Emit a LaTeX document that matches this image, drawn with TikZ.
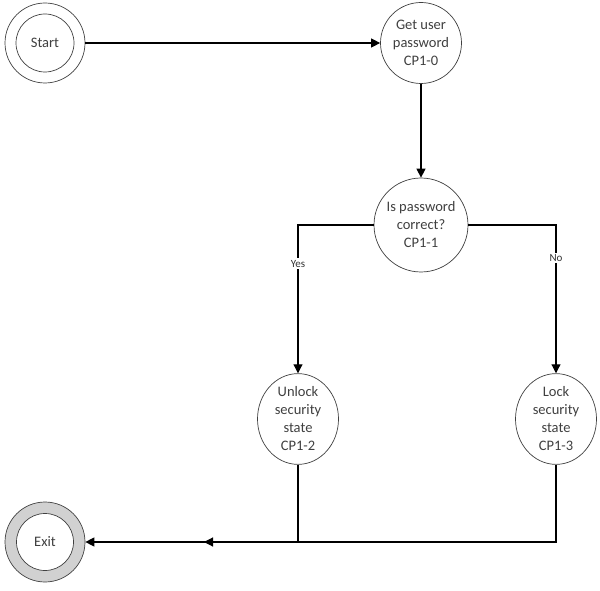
\documentclass[tikz,border=0pt]{standalone}
\usepackage{fontspec}
\setmainfont{Carlito}
\usetikzlibrary{arrows.meta,shapes.geometric}

\begin{document}
\begin{tikzpicture}[x=1pt,y=1pt,
    state/.style={circle,draw=black!75,line width=0.7pt,fill=white,
      text=black!75,font=\fontsize{14.5}{18}\selectfont,align=center,inner sep=0pt},
    flow/.style={line width=1.1pt,-{Triangle[length=9pt,width=9pt]}},
    line/.style={line width=1.1pt}]
      \useasboundingbox (0,0) rectangle (600,590);
      % Start and exit
      \node[state,minimum size=80pt] (start) at (45,547) {};
      \node[state,minimum size=58pt] (startin) at (45,547) {Start};
      \node[state,minimum size=80pt,fill=black!18] (exit) at (45,48) {};
      \node[state,minimum size=57pt] (exitin) at (45,48) {Exit};
      % States
      \node[state,minimum size=81pt] (getpw) at (421,547) {Get user\\password\\CP1-0};
      \node[state,minimum size=94pt] (check) at (421,365) {Is password\\correct?\\CP1-1};
      \node[state,ellipse,minimum width=81pt,minimum height=84pt] (unlock) at (298,171)
        {Unlock\\security\\state\\CP1-2};
      \node[state,ellipse,minimum width=81pt,minimum height=84pt] (lock) at (556,171)
        {Lock\\security\\state\\CP1-3};
      \coordinate (join) at (unlock |- exit);
      \coordinate (mid) at (204,48);
      % Connectors
      \draw[flow] (start) -- (getpw);
      \draw[flow] (getpw) -- (check);
      \draw[flow] (check.west) -| (unlock.north)
        node[pos=0.63,fill=white,inner sep=1.5pt,font=\fontsize{11}{13}\selectfont,text=black!80] {Yes};
      \draw[flow] (check.east) -| (lock.north)
        node[pos=0.61,fill=white,inner sep=1.5pt,font=\fontsize{11}{13}\selectfont,text=black!80] {No};
      \draw[line] (unlock.south) -- (join);
      \draw[flow] (lock.south) |- (exit.east);
      \draw[flow] (join) -- (mid);
    \end{tikzpicture}
\end{document}
